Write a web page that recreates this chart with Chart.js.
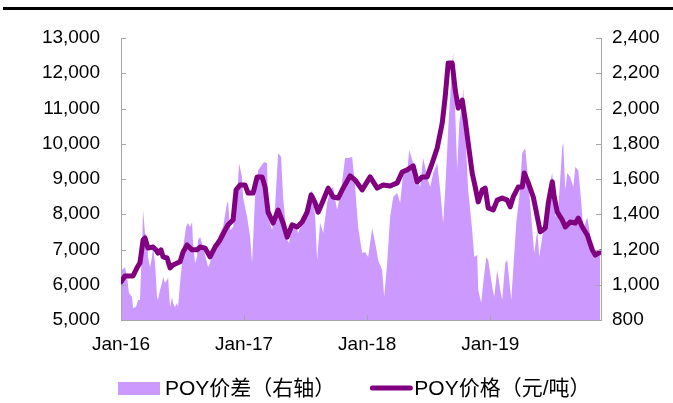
<!DOCTYPE html>
<html>
<head>
<meta charset="utf-8">
<script src="https://cdn.jsdelivr.net/npm/chart.js@4.4.1/dist/chart.umd.min.js"></script>
<style>
  html, body { margin: 0; padding: 0; background: #fff; overflow: hidden; }
  #wrap { position: relative; width: 673px; height: 403px; }
</style>
</head>
<body>
<div id="wrap"><canvas id="c"></canvas></div>
<script>
// ---- DATA (months since Jan 2016) ----
const tickMonths = [0, 12, 24, 36];
const tickLabels = ['Jan-16', 'Jan-17', 'Jan-18', 'Jan-19'];
const seriesNames = ['POY价差（右轴）', 'POY价格（元/吨）'];

// POY价格 (left axis, 元/吨)
const priceMonths = [0.00,0.39,1.17,1.56,1.85,2.15,2.34,2.63,3.12,3.41,3.61,3.90,4.10,4.49,4.78,5.07,5.76,6.05,6.44,6.93,7.41,7.71,8.20,8.68,9.17,9.66,10.15,10.44,10.93,11.22,11.61,12.10,12.39,12.88,13.27,13.76,14.05,14.34,14.83,15.32,15.80,16.20,16.68,17.17,17.66,18.15,18.54,18.93,19.22,19.61,20.20,20.68,21.17,21.66,22.34,22.83,23.51,24.29,24.98,25.56,26.24,26.93,27.41,27.90,28.49,28.88,29.37,29.85,30.34,30.83,31.32,31.61,31.90,32.29,32.59,32.88,33.27,33.56,33.85,34.24,34.54,34.83,35.22,35.51,35.80,36.29,36.68,37.17,37.66,37.95,38.24,38.73,39.12,39.32,39.71,40.20,40.59,40.88,41.37,41.66,42.05,42.24,42.54,43.02,43.32,43.80,44.29,44.59,44.98,45.46,45.95,46.24,46.73];
const priceValues = [6080,6250,6250,6480,6620,7270,7330,7040,7070,6990,6900,6990,6790,6760,6480,6560,6650,6930,7130,6990,6990,7070,7040,6790,7070,7270,7550,7700,7840,8690,8830,8830,8600,8600,9060,9060,8770,8060,7750,8120,7750,7350,7700,7640,7780,8060,8550,8320,8060,8320,8740,8490,8460,8740,9090,8970,8690,9060,8740,8830,8800,8890,9200,9260,9370,8920,9060,9060,9450,9880,10590,11330,12290,12290,11520,11010,11240,10670,10020,9170,8770,8350,8690,8740,8180,8120,8400,8460,8400,8210,8490,8770,8770,9170,8890,8490,7920,7500,7610,8320,8920,8490,8060,7840,7640,7780,7750,7890,7640,7410,6990,6840,6930];

// POY价差 (right axis)
const spreadMonths = [0.10,0.39,0.59,0.78,1.07,1.17,1.46,1.66,1.85,2.05,2.15,2.34,2.54,2.63,2.83,3.02,3.12,3.32,3.51,3.61,3.80,4.00,4.10,4.29,4.49,4.59,4.78,4.98,5.07,5.27,5.46,5.56,5.76,5.95,6.05,6.34,6.54,6.73,6.93,7.02,7.22,7.41,7.51,7.71,8.00,8.39,8.49,8.68,8.98,9.37,9.66,9.95,10.34,10.44,10.63,10.93,11.32,11.51,11.80,11.90,12.29,12.59,12.78,13.07,13.37,13.95,14.24,14.34,14.73,15.02,15.32,15.61,15.80,16.20,16.39,16.68,16.98,17.27,17.66,17.95,18.24,18.63,18.93,19.12,19.41,19.71,20.10,20.39,20.68,21.07,21.46,21.85,22.15,22.54,22.83,23.12,23.51,23.80,24.10,24.49,24.78,25.07,25.46,25.66,25.95,26.24,26.54,26.93,27.22,27.51,27.90,28.10,28.49,28.88,29.17,29.46,29.85,30.15,30.44,30.83,31.12,31.41,31.61,31.90,32.29,32.39,32.59,32.78,32.98,33.27,33.37,33.56,33.85,34.24,34.44,34.73,34.83,35.12,35.32,35.61,35.80,36.20,36.39,36.68,36.98,37.17,37.46,37.66,38.05,38.24,38.54,38.83,39.12,39.41,39.71,40.10,40.29,40.59,40.78,41.07,41.37,41.66,42.05,42.34,42.63,43.02,43.12,43.32,43.51,43.80,44.10,44.29,44.59,44.88,45.07,45.46,45.66,45.95,46.24,46.73];
const spreadValues = [1084,1100,1044,953,930,868,874,913,913,1214,1424,1293,1271,1157,1100,1157,1214,1123,930,913,970,1010,1044,1010,1027,1044,874,930,896,874,896,874,1010,1123,1208,1328,1350,1328,1356,1237,1123,1157,1254,1271,1214,1123,1100,1123,1214,1254,1293,1328,1464,1470,1310,1328,1498,1690,1611,1498,1384,1271,1123,1498,1650,1696,1690,1384,1310,1441,1747,1725,1498,1254,1237,1350,1350,1293,1350,1424,1481,1537,1384,1140,1350,1293,1464,1537,1555,1424,1537,1719,1719,1725,1555,1328,1180,1186,1157,1322,1237,1140,1084,930,1123,1384,1498,1520,1464,1634,1634,1764,1690,1611,1555,1719,1611,1555,1634,1690,1537,1350,1537,1878,2258,2315,1974,1650,1918,2031,2116,1878,1537,1310,1157,1169,970,896,1010,1157,1140,987,930,1084,970,913,1123,1140,913,1084,1350,1498,1747,1776,1594,1310,1180,1310,1157,1271,1384,1537,1634,1384,1424,1782,1804,1537,1634,1611,1555,1668,1650,1464,1310,1384,1310,1214,1157,1180];

const FONT = "'Liberation Sans', Arial, 'Noto Sans CJK SC', sans-serif";
const AXIS_GRAY = '#A6A6A6';
const AREA_COLOR = '#CC99FF';
const LINE_COLOR = '#800080';

const toXY = (xs, ys) => xs.map((x, i) => ({ x: x, y: ys[i] }));

const decorPlugin = {
  id: 'decor',
  beforeDraw(chart) {
    const ctx = chart.ctx;
    ctx.save();
    ctx.fillStyle = '#000';
    ctx.fillRect(3, 7, 670, 3);
    ctx.restore();
  },
  afterDatasetsDraw(chart) {
    const ctx = chart.ctx;
    const { left, right, bottom } = chart.chartArea;
    const yl = chart.scales.y, yr = chart.scales.y2, x = chart.scales.x;
    ctx.save();
    ctx.strokeStyle = AXIS_GRAY;
    ctx.lineWidth = 1;
    ctx.beginPath();
    yl.ticks.forEach(t => {
      const p = Math.round(yl.getPixelForValue(t.value)) + 0.5;
      ctx.moveTo(left, p); ctx.lineTo(left + 5, p);
    });
    yr.ticks.forEach(t => {
      const p = Math.round(yr.getPixelForValue(t.value)) + 0.5;
      ctx.moveTo(right - 5, p); ctx.lineTo(right, p);
    });
    tickMonths.forEach(m => {
      const p = Math.round(x.getPixelForValue(m)) + 0.5;
      ctx.moveTo(p, bottom); ctx.lineTo(p, bottom - 5);
    });
    ctx.stroke();
    ctx.restore();
  },
  afterDraw(chart) {
    // legend (uses dataset labels/colours)
    const ctx = chart.ctx;
    const ds = chart.data.datasets;
    const cy = 388;
    ctx.save();
    ctx.font = '21px ' + FONT;
    ctx.textBaseline = 'middle';
    const x0 = 118;
    ctx.fillStyle = ds[0].backgroundColor;
    ctx.fillRect(x0, cy - 6, 42, 13);
    ctx.fillStyle = '#000';
    ctx.fillText(ds[0].label, x0 + 47, cy + 1);
    const w1 = ctx.measureText(ds[0].label).width;
    const x1 = x0 + 47 + w1 + 35;
    ctx.strokeStyle = ds[1].borderColor;
    ctx.lineWidth = 5;
    ctx.lineCap = 'round';
    ctx.beginPath();
    ctx.moveTo(x1 + 2, cy); ctx.lineTo(x1 + 40, cy);
    ctx.stroke();
    ctx.fillText(ds[1].label, x1 + 44, cy + 1);
    ctx.restore();
  }
};

new Chart(document.getElementById('c'), {
  type: 'line',
  data: {
    datasets: [
      {
        label: seriesNames[0],
        data: toXY(spreadMonths, spreadValues),
        yAxisID: 'y2',
        borderWidth: 0,
        borderColor: 'rgba(0,0,0,0)',
        backgroundColor: AREA_COLOR,
        fill: 'start',
        pointRadius: 0,
        tension: 0,
        order: 1
      },
      {
        label: seriesNames[1],
        data: toXY(priceMonths, priceValues),
        yAxisID: 'y',
        borderWidth: 5,
        borderColor: LINE_COLOR,
        backgroundColor: LINE_COLOR,
        fill: false,
        pointRadius: 0,
        tension: 0,
        borderJoinStyle: 'round',
        borderCapStyle: 'round',
        order: 0
      }
    ]
  },
  options: {
    responsive: true,
    maintainAspectRatio: false,
    animation: false,
    layout: { padding: { top: 38, left: 0, right: 0, bottom: 43 } },
    plugins: {
      tooltip: { enabled: false },
      legend: { display: false }
    },
    scales: {
      x: {
        type: 'linear',
        min: 0,
        max: 46.8,
        afterBuildTicks(s) { s.ticks = tickMonths.map(v => ({ value: v })); },
        afterFit(s) { s.height = 40; },
        grid: { drawOnChartArea: false, drawTicks: false },
        border: { display: true, color: AXIS_GRAY, width: 1 },
        ticks: {
          padding: 13,
          maxRotation: 0,
          autoSkip: false,
          color: '#000',
          font: { family: FONT, size: 19 },
          callback(v) { const i = tickMonths.indexOf(v); return i >= 0 ? tickLabels[i] : ''; }
        }
      },
      y: {
        position: 'left',
        min: 5000,
        max: 13000,
        afterFit(s) { s.width = 121; },
        grid: { drawOnChartArea: false, drawTicks: false },
        border: { display: true, color: AXIS_GRAY, width: 1 },
        ticks: {
          stepSize: 1000,
          padding: 21,
          color: '#000',
          font: { family: FONT, size: 19 },
          callback(v) { return v.toLocaleString('en-US'); }
        }
      },
      y2: {
        position: 'right',
        min: 800,
        max: 2400,
        afterFit(s) { s.width = 72; },
        grid: { drawOnChartArea: false, drawTicks: false },
        border: { display: true, color: AXIS_GRAY, width: 1 },
        ticks: {
          stepSize: 200,
          padding: 11,
          color: '#000',
          font: { family: FONT, size: 19 },
          callback(v) { return v.toLocaleString('en-US'); }
        }
      }
    }
  },
  plugins: [decorPlugin]
});
</script>
</body>
</html>
